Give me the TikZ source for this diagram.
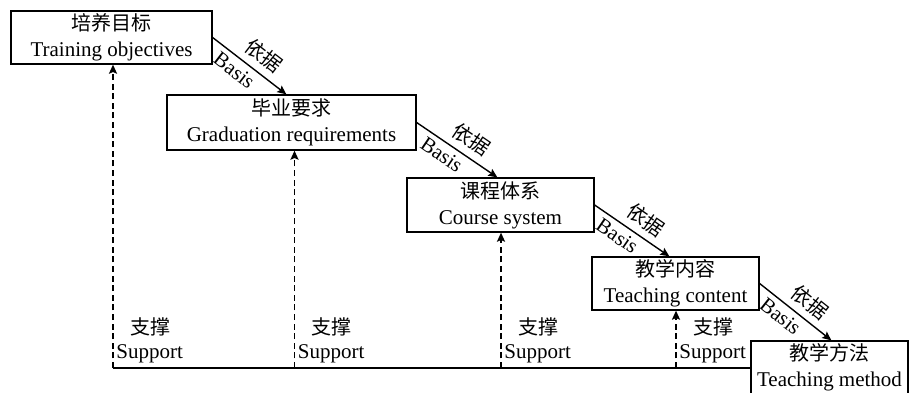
\documentclass[tikz,border=0pt]{standalone}
\usepackage{fontspec}
\setmainfont{Liberation Serif}
\newfontfamily\cjk{Noto Sans CJK SC}
\usetikzlibrary{arrows.meta,calc}
\begin{document}
\begin{tikzpicture}[x=0.5pt,y=-0.5pt,
  box/.style={draw,line width=0.65pt,rectangle,inner sep=0pt,align=center,
    font=\fontsize{10.5}{13}\selectfont},
  zh/.style={font=\cjk\fontsize{10}{12}\selectfont},
  en/.style={font=\fontsize{10.5}{12}\selectfont},
  arr/.style={line width=0.7pt,-{Stealth[length=4.5pt,width=4pt,inset=0.8pt]}},
  dasharr/.style={line width=0.8pt,dash pattern=on 3pt off 1.8pt,-{Stealth[length=4.5pt,width=4pt,inset=0.8pt]}},
  lbl/.style={inner sep=1pt,sloped},
  sup/.style={anchor=west,inner sep=0pt}
]
\useasboundingbox (0,0) rectangle (909,392);

\node[box,minimum width=100.5pt,minimum height=26.5pt] (b1) at (111.5,37.5)
  {{\cjk\fontsize{10}{12}\selectfont 培养目标}\\Training objectives};
\node[box,minimum width=124.5pt,minimum height=27.5pt] (b2) at (291.5,122.5)
  {{\cjk\fontsize{10}{12}\selectfont 毕业要求}\\Graduation requirements};
\node[box,minimum width=93.5pt,minimum height=27pt] (b3) at (500.5,205)
  {{\cjk\fontsize{10}{12}\selectfont 课程体系}\\Course system};
\node[box,minimum width=83.5pt,minimum height=26.5pt] (b4) at (675.5,283.5)
  {{\cjk\fontsize{10}{12}\selectfont 教学内容}\\Teaching content};
\node[box,minimum width=78.5pt,minimum height=26.5pt] (b5) at (829.5,367.5)
  {{\cjk\fontsize{10}{12}\selectfont 教学方法}\\Teaching method};

\draw[arr] (b1.east) -- node[lbl,pos=0.56,above=2.5pt,zh]{依据} node[lbl,pos=0.4,below=1.5pt,en]{Basis} ($(b2.north west)+(120,0)$);
\draw[arr] (b2.east) -- node[lbl,pos=0.56,above=2.5pt,zh]{依据} node[lbl,pos=0.4,below=1.5pt,en]{Basis} ($(b3.north west)+(91,0)$);
\draw[arr] (b3.east) -- node[lbl,pos=0.56,above=2.5pt,zh]{依据} node[lbl,pos=0.4,below=1.5pt,en]{Basis} ($(b4.north west)+(78,0)$);
\draw[arr] (b4.east) -- node[lbl,pos=0.56,above=2.5pt,zh]{依据} node[lbl,pos=0.4,below=1.5pt,en]{Basis} ($(b5.north west)+(81,0)$);

\coordinate (s1) at (113,368);
\coordinate (s2) at (294.5,368);
\coordinate (s3) at (501,368);
\coordinate (s4) at (676,368);

\draw[line width=0.7pt] (s1) -- (s1 -| b5.west);
\draw[dasharr] (s1) -- (s1 |- b1.south);
\draw[dasharr] (s2) -- (s2 |- b2.south);
\draw[dasharr] (s3) -- (s3 |- b3.south);
\draw[dasharr] (s4) -- (s4 |- b4.south);

\foreach \s/\n in {s1/t1,s2/t2,s3/t3,s4/t4}{
  \node[sup,zh] (\n z) at ($(\s)+(17,-41)$) {支撑};
  \node[sup,en] (\n e) at ($(\s)+(3,-14)$) {Support};
}
\end{tikzpicture}
\end{document}
